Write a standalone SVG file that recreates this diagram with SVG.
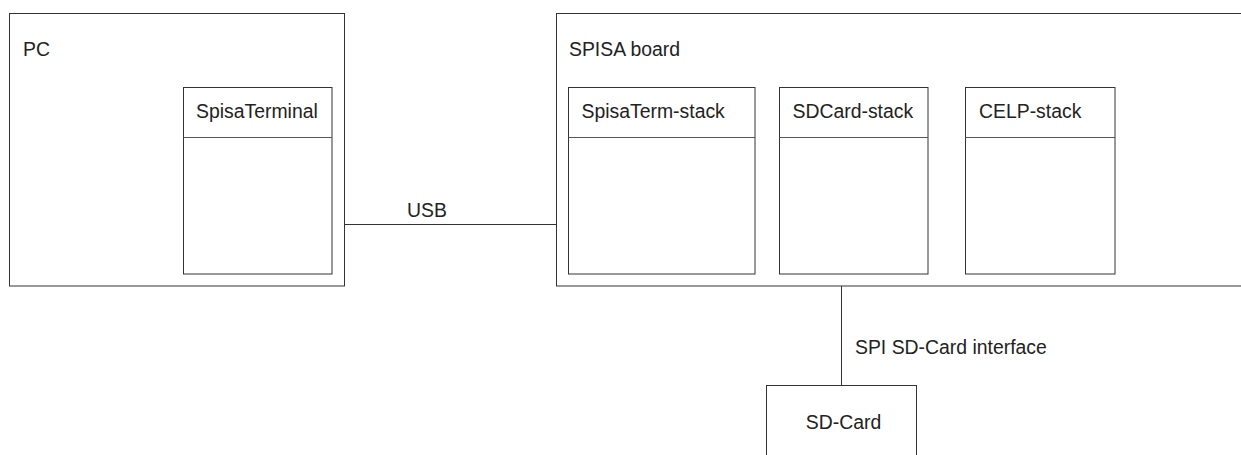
<svg xmlns="http://www.w3.org/2000/svg" width="1241" height="455" viewBox="0 0 1241 455">
<style>
.box{fill:#fff;stroke:#333;stroke-width:1}
.div{stroke:#555;stroke-width:1;fill:none}
.con{stroke:#333;stroke-width:1;fill:none}
text{font-family:"Liberation Sans",Arial,sans-serif;font-size:19.4px;fill:#222}
</style>
<rect width="1241" height="455" fill="#fff"/>
<g id="pc">
<rect class="box" x="9.5" y="13.5" width="335" height="272.5"/>
<text x="23" y="56">PC</text>
</g>
<g id="spisaterminal">
<rect class="box" x="183.5" y="87.5" width="148.5" height="186.5"/>
<line class="div" x1="183.5" y1="137.5" x2="332" y2="137.5"/>
<text x="196" y="118">SpisaTerminal</text>
</g>
<g id="spisa-board">
<rect class="box" x="556.5" y="13.5" width="700" height="272.5"/>
<text x="569" y="56">SPISA board</text>
</g>
<g id="spisaterm-stack">
<rect class="box" x="568.5" y="87.5" width="186.5" height="186.5"/>
<line class="div" x1="568.5" y1="137.5" x2="755" y2="137.5"/>
<text x="581.5" y="118">SpisaTerm-stack</text>
</g>
<g id="sdcard-stack">
<rect class="box" x="779.5" y="87.5" width="148.5" height="186.5"/>
<line class="div" x1="779.5" y1="137.5" x2="928" y2="137.5"/>
<text x="792.5" y="118">SDCard-stack</text>
</g>
<g id="celp-stack">
<rect class="box" x="965.5" y="87.5" width="149.5" height="186.5"/>
<line class="div" x1="965.5" y1="137.5" x2="1115" y2="137.5"/>
<text x="979" y="118">CELP-stack</text>
</g>
<g id="sd-card">
<rect class="box" x="766.5" y="385.5" width="150" height="80"/>
<text x="843.5" y="428.5" text-anchor="middle">SD-Card</text>
</g>
<g id="connectors">
<line class="con" x1="345" y1="224.5" x2="556" y2="224.5"/>
<text x="427" y="217" text-anchor="middle">USB</text>
<line class="con" x1="841.5" y1="286" x2="841.5" y2="385.5"/>
<text x="855" y="353.5">SPI SD-Card interface</text>
</g>
</svg>
